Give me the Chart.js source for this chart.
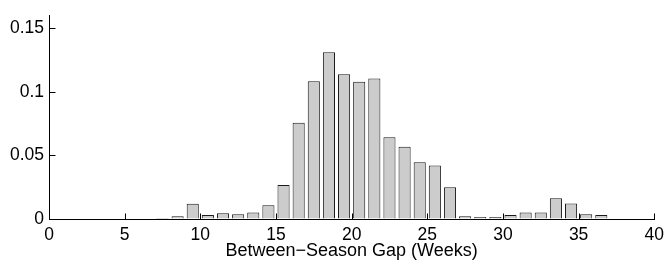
<!DOCTYPE html>
<html>
<head>
<meta charset="utf-8">
<script src="https://cdn.jsdelivr.net/npm/chart.js@4/dist/chart.umd.min.js"></script>
<style>
  html, body { margin: 0; padding: 0; background: #fff; }
  #wrap { width: 670px; height: 261px; }
</style>
</head>
<body>
<div id="wrap"><canvas id="c" width="670" height="261"></canvas></div>
<script>
// Bin centres (weeks) and relative frequencies
const binCenters = [7.5, 8.5, 9.5, 10.5, 11.5, 12.5, 13.5, 14.5, 15.5, 16.5,
                    17.5, 18.5, 19.5, 20.5, 21.5, 22.5, 23.5, 24.5, 25.5, 26.5,
                    27.5, 28.5, 29.5, 30.5, 31.5, 32.5, 33.5, 34.5, 35.5, 36.5];
const frequencies = [0.0007, 0.0022, 0.0119, 0.0032, 0.0045, 0.0037, 0.0052, 0.0108, 0.0267, 0.0757,
                     0.1084, 0.1311, 0.1138, 0.1079, 0.1104, 0.0643, 0.0569, 0.0446, 0.0420, 0.0250,
                     0.0022, 0.0015, 0.0015, 0.0032, 0.0052, 0.0052, 0.0163, 0.0121, 0.0037, 0.0032];
const xTickValues = [0, 5, 10, 15, 20, 25, 30, 35, 40];
const yTickValues = [0, 0.05, 0.1, 0.15];
const yTickLabels = ['0', '0.05', '0.1', '0.15'];
const xAxisTitle = 'Between\u2212Season Gap (Weeks)';

const FONT = "'Liberation Sans', Arial, Helvetica, sans-serif";

const insideTicks = {
  id: 'insideTicks',
  afterDatasetsDraw(chart) {
    const ctx = chart.ctx;
    const xs = chart.scales.x, ys = chart.scales.y;
    const len = 6;
    ctx.save();
    ctx.strokeStyle = '#000';
    ctx.lineWidth = 1;
    ctx.beginPath();
    xTickValues.forEach(v => {
      if (v === 0) return;
      const px = Math.round(xs.getPixelForValue(v)) + 0.5;
      const py = Math.round(ys.getPixelForValue(0)) + 0.5;
      ctx.moveTo(px, py);
      ctx.lineTo(px, py - len);
    });
    yTickValues.forEach(v => {
      if (v === 0) return;
      const py = Math.round(ys.getPixelForValue(v)) + 0.5;
      const px = Math.round(xs.getPixelForValue(0)) + 0.5;
      ctx.moveTo(px, py);
      ctx.lineTo(px + len, py);
    });
    ctx.stroke();
    ctx.restore();
  }
};

new Chart(document.getElementById('c'), {
  type: 'bar',
  data: {
    datasets: [{
      data: binCenters.map((x, i) => ({ x: x, y: frequencies[i] })),
      backgroundColor: '#cccccc',
      borderColor: '#1a1a1a',
      borderWidth: 1,
      barPercentage: 0.8,
      categoryPercentage: 1.0,
      inflateAmount: 0
    }]
  },
  options: {
    responsive: false,
    animation: false,
    devicePixelRatio: 1,
    layout: { padding: { left: 0, right: 11, top: 4, bottom: 0 } },
    plugins: { legend: { display: false }, tooltip: { enabled: false } },
    scales: {
      x: {
        type: 'linear',
        min: 0,
        max: 40,
        offset: false,
        grid: { display: true, drawOnChartArea: false, drawTicks: false, offset: false },
        border: { display: true, color: '#000', width: 1 },
        afterBuildTicks: (s) => { s.ticks = xTickValues.map(v => ({ value: v })); },
        ticks: {
          autoSkip: false,
          maxRotation: 0,
          padding: 6,
          color: '#000',
          font: { family: FONT, size: 17.5 },
          callback: (v) => String(v)
        },
        title: {
          display: true,
          text: xAxisTitle,
          color: '#000',
          font: { family: FONT, size: 18, lineHeight: 1.1 },
          padding: { top: 0, bottom: 0 }
        },
        afterFit: (s) => { s.height = 42; }
      },
      y: {
        type: 'linear',
        min: 0,
        max: 0.16,
        grid: { display: true, drawOnChartArea: false, drawTicks: false },
        border: { display: true, color: '#000', width: 1 },
        afterBuildTicks: (s) => { s.ticks = yTickValues.map(v => ({ value: v })); },
        ticks: {
          autoSkip: false,
          padding: 5,
          color: '#000',
          font: { family: FONT, size: 17.5 },
          callback: (v) => {
            const i = yTickValues.findIndex(t => Math.abs(t - v) < 1e-9);
            return i >= 0 ? yTickLabels[i] : '';
          }
        },
        afterFit: (s) => { s.width = 49; }
      }
    }
  },
  plugins: [insideTicks]
});
</script>
</body>
</html>
